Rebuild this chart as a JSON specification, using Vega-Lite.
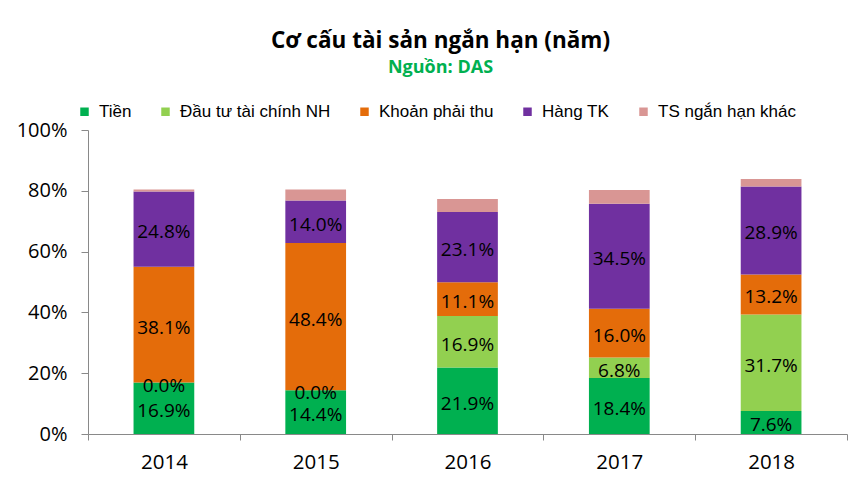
{
  "$schema": "https://vega.github.io/schema/vega-lite/v6.json",
  "autosize": {"type": "none"},
  "padding": {"left": 88, "top": 130, "right": 18, "bottom": 54},
  "width": 759,
  "height": 304,
  "background": "white",
  "title": {
    "text": "Cơ cấu tài sản ngắn hạn (năm)",
    "subtitle": "Nguồn: DAS",
    "anchor": "middle",
    "dx": -27,
    "font": "Open Sans",
    "fontSize": 22.5,
    "fontWeight": "bold",
    "color": "black",
    "subtitleFont": "Open Sans",
    "subtitleFontSize": 18,
    "subtitleFontWeight": "bold",
    "subtitleColor": "#00B050",
    "subtitlePadding": 7,
    "offset": 26
  },
  "data": {
    "values": [
      {"year": "2014", "series": "Tiền", "o": 1, "value": 0.169},
      {"year": "2014", "series": "Đầu tư tài chính NH", "o": 2, "value": 0.0},
      {"year": "2014", "series": "Khoản phải thu", "o": 3, "value": 0.381},
      {"year": "2014", "series": "Hàng TK", "o": 4, "value": 0.248},
      {"year": "2014", "series": "TS ngắn hạn khác", "o": 5, "value": 0.006},
      {"year": "2015", "series": "Tiền", "o": 1, "value": 0.144},
      {"year": "2015", "series": "Đầu tư tài chính NH", "o": 2, "value": 0.0},
      {"year": "2015", "series": "Khoản phải thu", "o": 3, "value": 0.484},
      {"year": "2015", "series": "Hàng TK", "o": 4, "value": 0.140},
      {"year": "2015", "series": "TS ngắn hạn khác", "o": 5, "value": 0.036},
      {"year": "2016", "series": "Tiền", "o": 1, "value": 0.219},
      {"year": "2016", "series": "Đầu tư tài chính NH", "o": 2, "value": 0.169},
      {"year": "2016", "series": "Khoản phải thu", "o": 3, "value": 0.111},
      {"year": "2016", "series": "Hàng TK", "o": 4, "value": 0.231},
      {"year": "2016", "series": "TS ngắn hạn khác", "o": 5, "value": 0.043},
      {"year": "2017", "series": "Tiền", "o": 1, "value": 0.184},
      {"year": "2017", "series": "Đầu tư tài chính NH", "o": 2, "value": 0.068},
      {"year": "2017", "series": "Khoản phải thu", "o": 3, "value": 0.160},
      {"year": "2017", "series": "Hàng TK", "o": 4, "value": 0.345},
      {"year": "2017", "series": "TS ngắn hạn khác", "o": 5, "value": 0.046},
      {"year": "2018", "series": "Tiền", "o": 1, "value": 0.076},
      {"year": "2018", "series": "Đầu tư tài chính NH", "o": 2, "value": 0.317},
      {"year": "2018", "series": "Khoản phải thu", "o": 3, "value": 0.132},
      {"year": "2018", "series": "Hàng TK", "o": 4, "value": 0.289},
      {"year": "2018", "series": "TS ngắn hạn khác", "o": 5, "value": 0.025}
    ]
  },
  "transform": [
    {"stack": "value", "groupby": ["year"], "sort": [{"field": "o", "order": "ascending"}], "as": ["v0", "v1"]},
    {"calculate": "(datum.v0 + datum.v1) / 2", "as": "mid"}
  ],
  "encoding": {
    "x": {
      "field": "year",
      "type": "nominal",
      "title": null,
      "scale": {"paddingInner": 0, "paddingOuter": 0},
      "axis": {
        "labelAngle": 0,
        "labelFont": "Open Sans",
        "labelFontSize": 20.5,
        "labelColor": "black",
        "labelPadding": 12,
        "tickBand": "extent",
        "tickSize": 6,
        "domainColor": "#898989",
        "tickColor": "#898989",
        "grid": false
      }
    }
  },
  "layer": [
    {
      "mark": {"type": "bar", "width": {"band": 0.4}},
      "encoding": {
        "y": {
          "field": "v0",
          "type": "quantitative",
          "title": null,
          "scale": {"domain": [0, 1]},
          "axis": {
            "values": [0, 0.2, 0.4, 0.6, 0.8, 1.0],
            "format": ".0%",
            "labelFont": "Open Sans",
            "labelFontSize": 20,
            "labelColor": "black",
            "labelPadding": 14,
            "tickSize": 7,
            "domainColor": "#898989",
            "tickColor": "#898989",
            "grid": false
          }
        },
        "y2": {"field": "v1"},
        "color": {
          "field": "series",
          "type": "nominal",
          "scale": {
            "domain": ["Tiền", "Đầu tư tài chính NH", "Khoản phải thu", "Hàng TK", "TS ngắn hạn khác"],
            "range": ["#00B050", "#92D050", "#E46C0A", "#7030A0", "#D99694"]
          },
          "legend": {
            "orient": "none",
            "legendX": -12,
            "legendY": -27,
            "padding": 0,
            "direction": "horizontal",
            "title": null,
            "symbolType": "square",
            "symbolSize": 72,
            "symbolStrokeWidth": 0,
            "labelFont": "Liberation Sans",
            "labelFontSize": 17,
            "labelColor": "black",
            "labelOffset": 6,
            "columnPadding": 25
          }
        }
      }
    },
    {
      "transform": [{"filter": "datum.o < 5"}],
      "mark": {"type": "text", "font": "Open Sans", "fontSize": 19, "color": "black", "baseline": "middle", "dy": 3},
      "encoding": {
        "y": {"field": "mid", "type": "quantitative"},
        "text": {"field": "value", "type": "quantitative", "format": ".1%"}
      }
    }
  ],
  "config": {"view": {"stroke": null}}
}
